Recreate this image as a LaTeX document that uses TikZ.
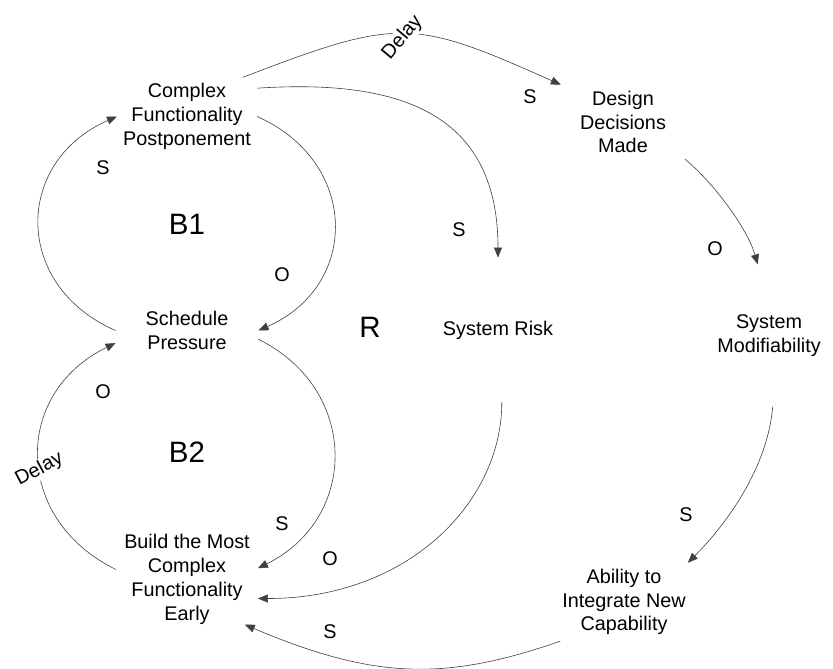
\documentclass[tikz,border=0pt]{standalone}
\usepackage{fontspec}
\setmainfont{Liberation Sans}
\usetikzlibrary{arrows.meta}
\tikzstyle{factor}=[align=center, inner sep=6pt, font=\fontsize{19.8}{23.8}\selectfont]
\tikzstyle{link}=[draw=black!75, line width=0.6pt, -{Triangle[length=10pt,width=8pt]}]
\tikzstyle{polarity}=[inner sep=0pt, font=\fontsize{19.8}{23.8}\selectfont]
\tikzstyle{loopname}=[inner sep=0pt, font=\fontsize{29.5}{34}\selectfont]
\tikzstyle{delaylabel}=[fill=white, inner sep=1pt, font=\fontsize{19.8}{23.8}\selectfont]

\begin{document}
\begin{tikzpicture}[x=1pt, y=-1pt]
  \useasboundingbox (0,0) rectangle (833,669);

  % variables
  \node (cfp) [factor] at (187,116.5) {Complex\\Functionality\\Postponement};
  \node (sp) [factor, inner xsep=30pt] at (187,330.5) {Schedule\\Pressure};
  \node (build) [factor, inner xsep=8pt, inner ysep=0pt] at (187,579.5)
        {Build the Most\\Complex\\Functionality\\Early};
  \node (ddm) [factor, inner xsep=19pt] at (623,122) {Design\\Decisions\\Made};
  \node (risk) [factor, inner ysep=63pt] at (498,330) {System Risk};
  \node (smod) [factor, inner ysep=50pt] at (769,335.5) {System\\Modifiability};
  \node (ability) [factor, inner xsep=2pt] at (624,602) {Ability to\\Integrate New\\Capability};

  % loop names
  \node (b1) [loopname] at (187,224) {B1};
  \node (b2) [loopname] at (187,452) {B2};
  \node (r) [loopname] at (370,327) {R};

  % balancing loop B1
  \draw [link] (sp.west) .. controls +(-103,-45) and +(-103,45) .. (cfp.west);
  \draw [link] (cfp.east) .. controls +(102,45) and +(102,-45) .. (sp.east);

  % balancing loop B2
  \draw [link] (sp.-7) .. controls +(101,50) and +(101,-50) .. (build.9);
  \draw [link] (build.172) .. controls +(-103,-50) and +(-103,50) .. (sp.190)
        node [delaylabel, pos=0.45, rotate=28] {Delay};

  % reinforcing loop R
  \draw [link] (cfp.35) .. controls +(156,-60) and +(-148,-66) .. (ddm.north west)
        node [delaylabel, pos=0.49, yshift=-4pt, rotate=50] {Delay};
  \draw [link] (cfp.22) .. controls +(150,-10) and +(0,-140) .. (risk.north);
  \draw [link] (ddm.south east) .. controls +(30,25) and +(-10,-35) .. (smod.99);
  \draw [link] (smod.-87) .. controls +(-5,60) and +(40,-40) .. (ability.north east);
  \draw [link] (risk.-87) .. controls +(0,100) and +(150,0) .. (build.-15);
  \draw [link] (ability.south west) .. controls +(-113,39) and +(132,56) .. (build.-38);

  % polarities
  \node (s1) [polarity] at (103,168) {S};
  \node (o1) [polarity] at (282,275) {O};
  \node (o2) [polarity] at (103,392) {O};
  \node (s2) [polarity] at (282,524) {S};
  \node (o3) [polarity] at (330,559) {O};
  \node (s3) [polarity] at (330,632) {S};
  \node (s4) [polarity] at (530,97) {S};
  \node (s5) [polarity] at (459,230) {S};
  \node (o4) [polarity] at (715,249) {O};
  \node (s6) [polarity] at (686,515) {S};

\end{tikzpicture}
\end{document}
